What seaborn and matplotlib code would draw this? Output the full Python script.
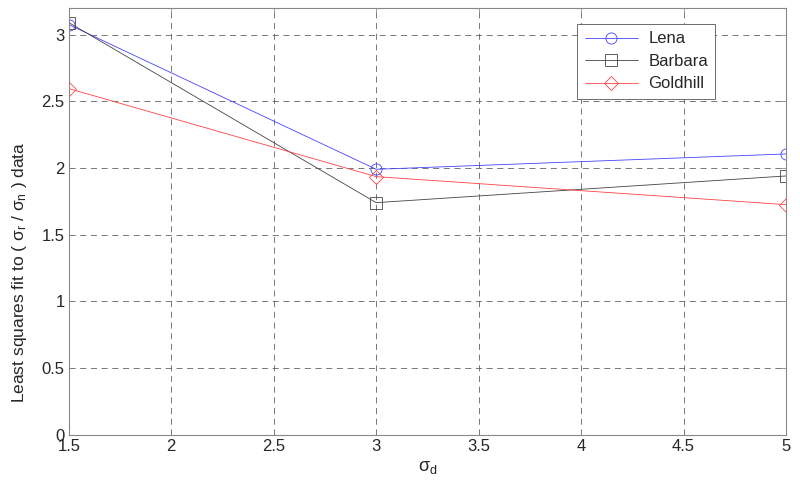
import pandas as pd
import matplotlib
matplotlib.use("Agg")
import matplotlib.pyplot as plt
import seaborn as sns

sns.set_style("whitegrid")
plt.rcParams['font.family'] = ['Liberation Sans', 'DejaVu Sans']
plt.rcParams['mathtext.default'] = 'regular'

# Data:
sigma_d = [1.5, 3, 5]
lena = [3.075, 1.99, 2.105]
barbara = [3.09, 1.74, 1.94]
goldhill = [2.595, 1.935, 1.725]

names = ["Lena", "Barbara", "Goldhill"]
df = pd.DataFrame({
    "sigma_d": sigma_d * 3,
    "value": lena + barbara + goldhill,
    "image": [n for n in names for _ in sigma_d],
})

colors = {"Lena": "#4444ff", "Barbara": "#444444", "Goldhill": "#ff4444"}
markers = {"Lena": "o", "Barbara": "s", "Goldhill": "D"}

fig = plt.figure(figsize=(8, 4.94), dpi=100)
ax = fig.add_axes([0.086, 0.12, 0.8965, 0.864])

for n in names:
    sub = df[df["image"] == n]
    sns.lineplot(data=sub, x="sigma_d", y="value", ax=ax, color=colors[n],
                 marker=markers[n], markersize=8 if markers[n] != "D" else 7,
                 markerfacecolor="none", markeredgecolor=colors[n],
                 markeredgewidth=0.6, linewidth=0.6, label=n)

ax.set_xlim(1.5, 5)
ax.set_ylim(0, 3.2)
ax.set_xticks([1.5, 2, 2.5, 3, 3.5, 4, 4.5, 5])
ax.set_xticklabels(["1.5", "2", "2.5", "3", "3.5", "4", "4.5", "5"])
ax.set_yticks([0, 0.5, 1, 1.5, 2, 2.5, 3])
ax.set_yticklabels(["0", "0.5", "1", "1.5", "2", "2.5", "3"])

ax.grid(True, color="#555555", linestyle=(0, (8, 6)), linewidth=0.55)
for s in ax.spines.values():
    s.set_visible(True)
    s.set_color("#888888")
    s.set_linewidth(0.8)
ax.tick_params(direction="in", length=4, width=0.6, color="#888888",
               labelsize=12, top=True, right=True, pad=3)

ax.set_xlabel(r"$\sigma_d$", fontsize=13, labelpad=4)
ax.set_ylabel(r"Least squares fit to ( $\sigma_r$ / $\sigma_n$ ) data", fontsize=12.5, labelpad=8)
ax.yaxis.set_label_coords(-0.056, 0.38)

leg = ax.legend(loc="upper left", bbox_to_anchor=(0.709, 0.9625), fontsize=12,
                fancybox=False, framealpha=1, edgecolor="#555555",
                handlelength=3.2, borderpad=0.45, labelspacing=0.45,
                handletextpad=0.6, borderaxespad=0)
leg.get_frame().set_linewidth(0.6)

fig.savefig("out.png", dpi=100)
